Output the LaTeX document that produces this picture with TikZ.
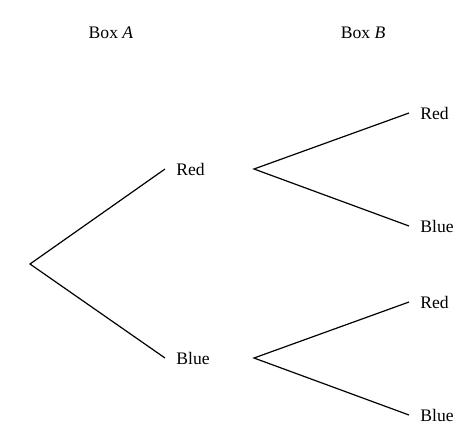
\documentclass[tikz,border=0pt]{standalone}
\usepackage{fontspec}
\setmainfont{Liberation Serif}

\begin{document}
\begin{tikzpicture}[x=0.5pt,y=-0.5pt,every node/.style={font=\fontsize{8.8}{10}\selectfont},
  leaf/.style={anchor=west,inner xsep=5.5pt},branch/.style={line width=0.6pt}]
\useasboundingbox (0,0) rectangle (474,445);
\node (boxA) at (111,33) {Box \textit{A}};
\node (boxB) at (363,33) {Box \textit{B}};
% first draw
\coordinate (root) at (30,264);
\node[leaf] (redA) at (165,169) {Red};
\node[leaf] (blueA) at (165,358) {Blue};
\draw[branch] (redA.west) -- (root) -- (blueA.west);
% second draw
\coordinate (forkR) at (254,169);
\coordinate (forkB) at (254,358);
\node[leaf] (redRB) at (409,113) {Red};
\node[leaf] (blueRB) at (409,226) {Blue};
\node[leaf] (redBB) at (409,302) {Red};
\node[leaf] (blueBB) at (409,415) {Blue};
\draw[branch] (redRB.west) -- (forkR) -- (blueRB.west);
\draw[branch] (redBB.west) -- (forkB) -- (blueBB.west);
\end{tikzpicture}
\end{document}
